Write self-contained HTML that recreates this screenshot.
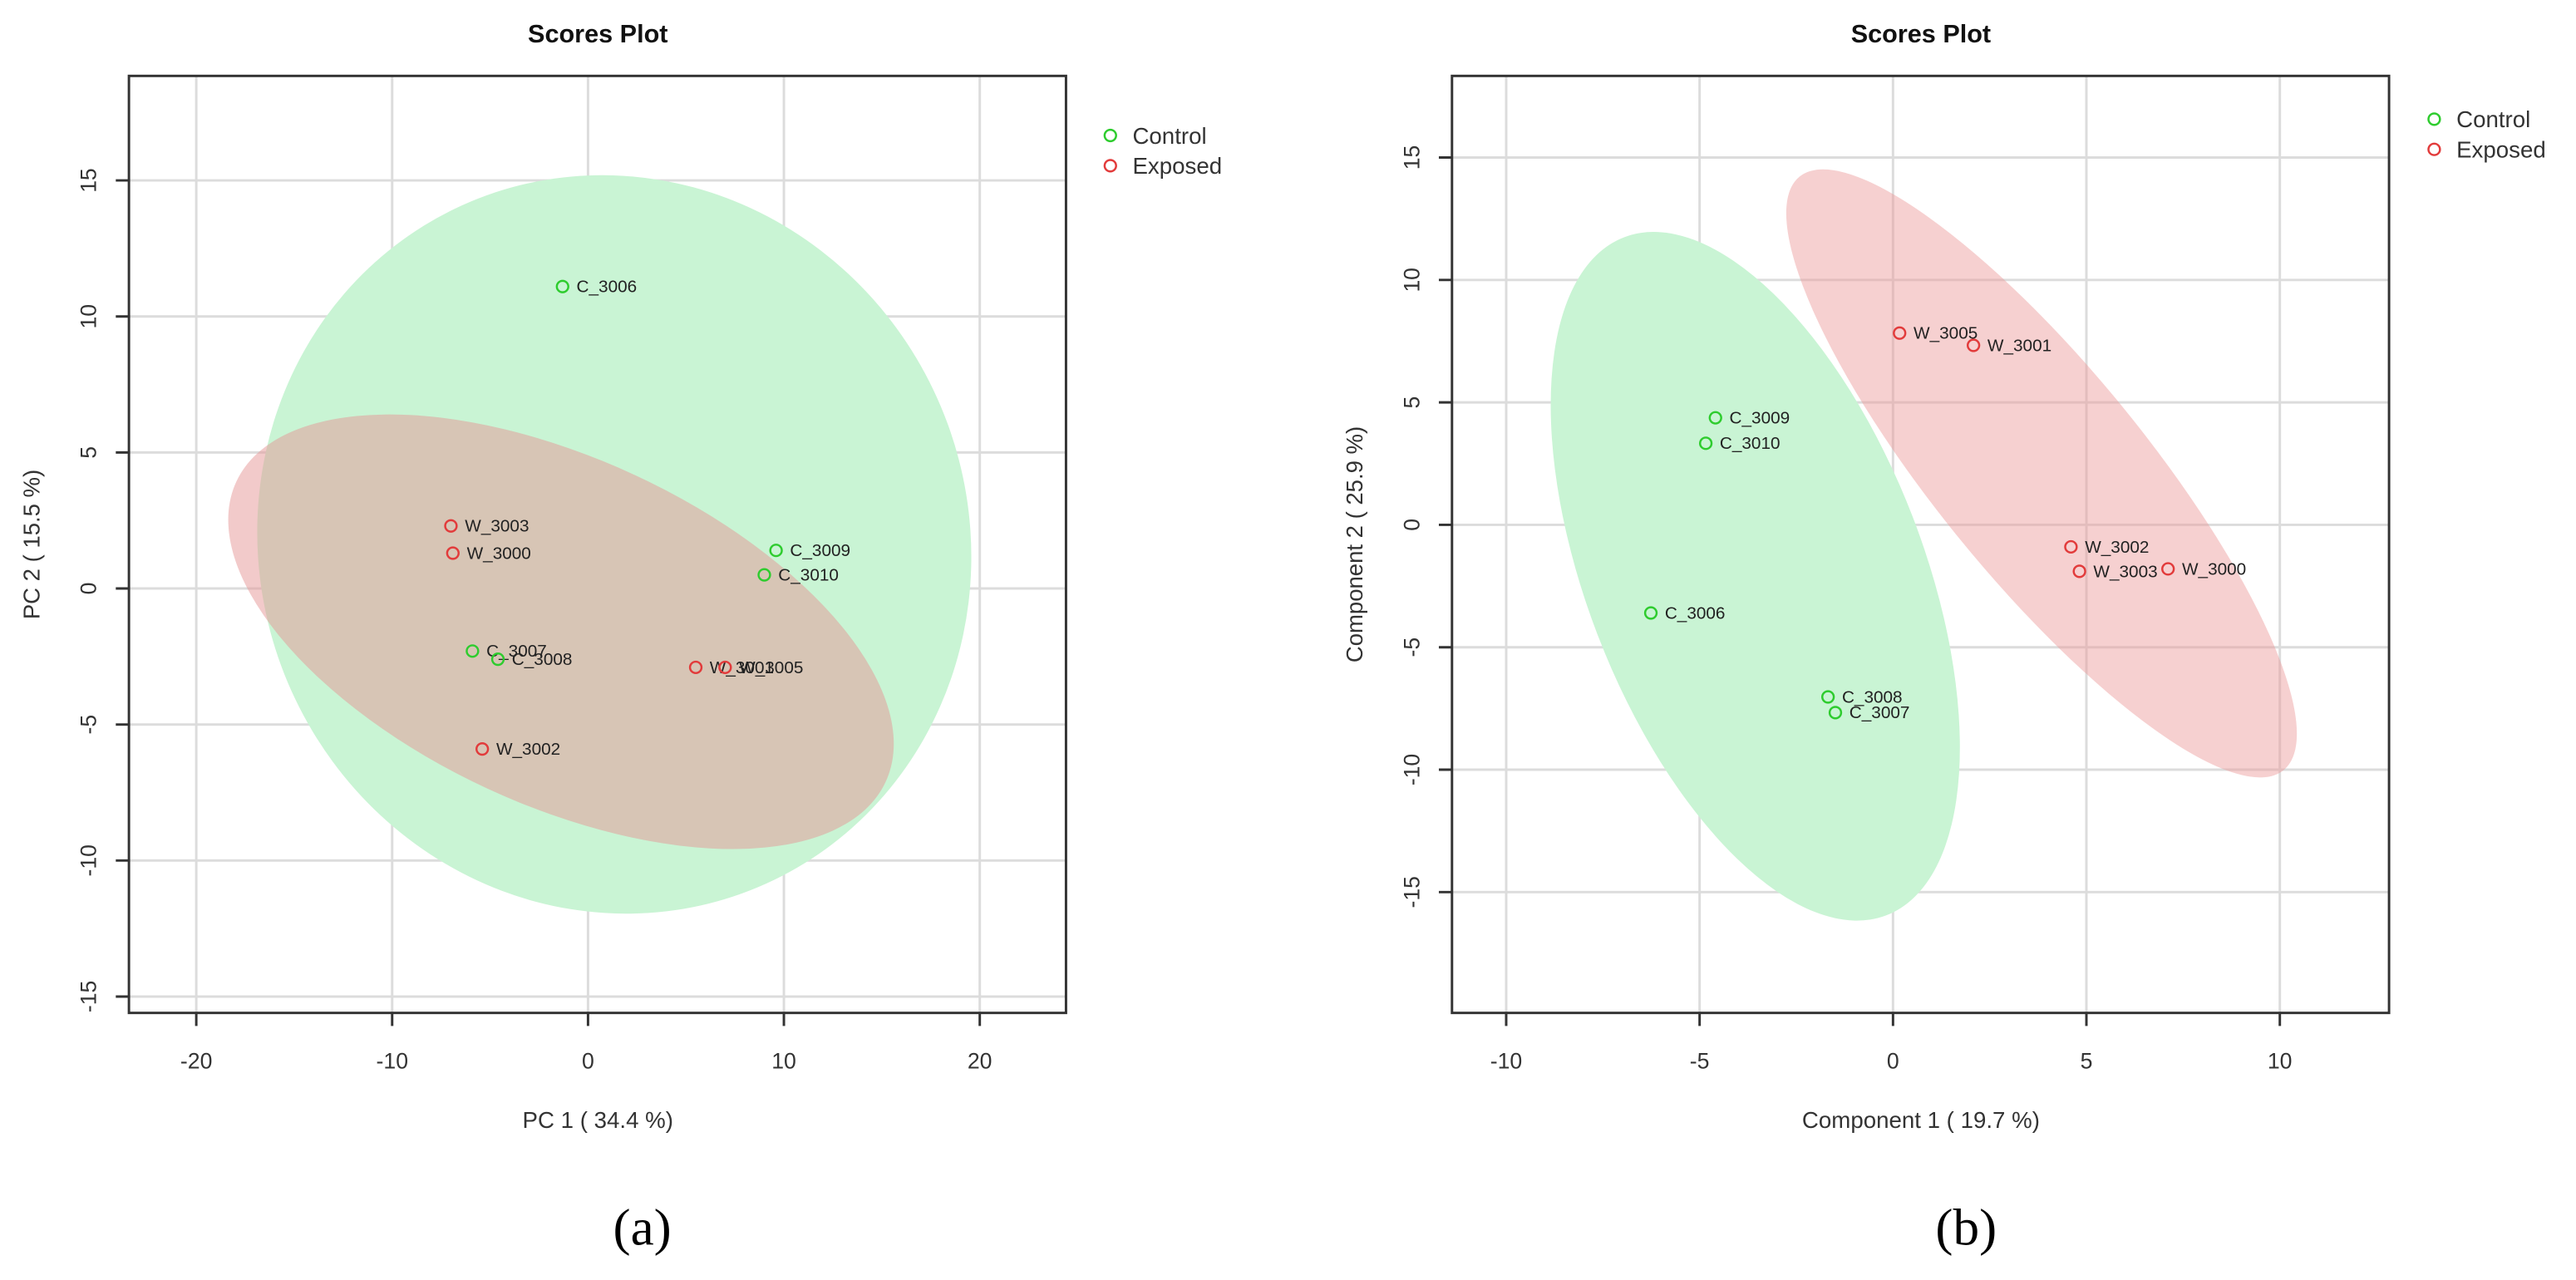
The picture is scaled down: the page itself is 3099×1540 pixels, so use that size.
<!DOCTYPE html>
<html><head><meta charset="utf-8"><style>
html,body{margin:0;padding:0;background:#fff;}
svg{display:block;font-family:"Liberation Sans",sans-serif;}
</style></head><body>
<svg id="chart" width="3099" height="1540" viewBox="0 0 3099 1540" xmlns="http://www.w3.org/2000/svg"><g id="root" transform="scale(0.988,0.982)"></g></svg>
<script>
// ---- Panel (a) data ----
const aLabels = ["C_3006","W_3003","W_3000","C_3009","C_3010","C_3007","C_3008","W_3001","W_3005","W_3002"];
const aGroups = ["Control","Exposed","Exposed","Control","Control","Control","Control","Exposed","Exposed","Exposed"];
const aX = [-1.3,-7.0,-6.9,9.6,9.0,-5.9,-4.6,5.5,7.0,-5.4];
const aY = [11.1,2.3,1.3,1.4,0.5,-2.3,-2.6,-2.9,-2.9,-5.9];
const aXTicks = [-20,-10,0,10,20];
const aYTicks = [-15,-10,-5,0,5,10,15];
const aEllCx = [1.34,-1.38];
const aEllCy = [1.62,-1.59];
// ---- Panel (b) data ----
const bLabels = ["W_3005","W_3001","C_3009","C_3010","W_3002","W_3003","W_3000","C_3006","C_3008","C_3007"];
const bGroups = ["Exposed","Exposed","Control","Control","Exposed","Exposed","Exposed","Control","Control","Control"];
const bX = [0.17,2.08,-4.59,-4.84,4.6,4.82,7.11,-6.26,-1.68,-1.49];
const bY = [7.83,7.33,4.37,3.33,-0.9,-1.9,-1.8,-3.6,-7.03,-7.67];
const bXTicks = [-10,-5,0,5,10];
const bYTicks = [-15,-10,-5,0,5,10,15];
const bEllCx = [-3.56,3.84];
const bEllCy = [-2.1,2.1];

const NS="http://www.w3.org/2000/svg";
const svg=document.getElementById('root');
function el(tag,attrs,parent){const e=document.createElementNS(NS,tag);for(const k in attrs)e.setAttribute(k,attrs[k]);(parent||svg).appendChild(e);return e;}
const COL={Control:"#2ecc2e",Exposed:"#e23b3b"};

function panel(cfg){
  const g=el('g',{transform:`translate(${cfg.dx},0)`});
  
  
  const sx=v=>cfg.x0px+(v-cfg.x0v)*cfg.xs;
  const sy=v=>cfg.y0px-(v-cfg.y0v)*cfg.ys;
  const [L,T,R,B]=cfg.box;
  cfg.xt.forEach(t=>{const l=el('line',{x1:sx(t),x2:sx(t),y1:T,y2:B,stroke:"#dcdcdc","stroke-width":3},g);});
  cfg.yt.forEach(t=>{const l=el('line',{x1:L,x2:R,y1:sy(t),y2:sy(t),stroke:"#dcdcdc","stroke-width":3},g);});
  cfg.ells.forEach((e,i)=>{
    const cx=sx(cfg.ecx[i]),cy=sy(cfg.ecy[i]);
    const p=el('ellipse',{cx:0,cy:0,rx:e.rx,ry:e.ry,fill:e.fill,"fill-opacity":e.op,transform:`translate(${cx},${cy}) rotate(${e.rot})`},g);
    
    
  });
  const bx=el('rect',{x:L,y:T,width:R-L,height:B-T,fill:"none",stroke:"#333","stroke-width":3},g);
  
  cfg.xt.forEach(t=>{
    el('line',{x1:sx(t),x2:sx(t),y1:B,y2:B+16,stroke:"#333","stroke-width":3},g);
    const tx=el('text',{x:sx(t),y:B+68,"font-size":27,fill:"#333","text-anchor":"middle"},g);tx.textContent=t;
    
  });
  cfg.yt.forEach(t=>{
    el('line',{x1:L-16,x2:L,y1:sy(t),y2:sy(t),stroke:"#333","stroke-width":3},g);
    const tx=el('text',{x:0,y:0,"font-size":27,fill:"#333","text-anchor":"middle",transform:`translate(${L-40},${sy(t)}) rotate(-90)`},g);tx.textContent=t;
    
  });
  cfg.X.forEach((v,i)=>{
    const c=el('circle',{cx:sx(v),cy:sy(cfg.Y[i]),r:7,fill:"none",stroke:COL[cfg.G[i]],"stroke-width":2.5},g);
    
    
    const t=el('text',{x:sx(v)+17,y:sy(cfg.Y[i])+7,"font-size":21,fill:"#222"},g);t.textContent=cfg.lab[i];
    
    
  });
  const ti=el('text',{x:cfg.titleX,y:52,"font-size":31,"font-weight":"bold","text-anchor":"middle",fill:"#111"},g);ti.textContent="Scores Plot";
  
  const xa=el('text',{x:cfg.titleX,y:1382,"font-size":28,"text-anchor":"middle",fill:"#333"},g);xa.textContent=cfg.xTitle;
  
  const ya=el('text',{x:0,y:0,"font-size":28,"text-anchor":"middle",fill:"#333",transform:`translate(${cfg.yTitleX},${(T+B)/2}) rotate(-90)`},g);ya.textContent=cfg.yTitle;
  
  ["Control","Exposed"].forEach((n,i)=>{
    const c=el('circle',{cx:cfg.legX,cy:cfg.legY+i*37,r:7,fill:"none",stroke:COL[n],"stroke-width":2.5},g);
    
    const t=el('text',{x:cfg.legX+27,y:cfg.legY+i*37+10,"font-size":28,fill:"#333"},g);t.textContent=n;
    
  });
  const cap=el('text',{x:cfg.capX,y:1525,"font-size":64,"text-anchor":"middle",fill:"#000","font-family":"Liberation Serif, serif"},g);
  cap.textContent=cfg.cap;
  
}

panel({name:'panel-a-pca',dx:0,box:[157,93,1298,1241],x0px:716,x0v:0,xs:23.85,y0px:721,y0v:0,ys:33.33,
  xt:aXTicks,yt:aYTicks,X:aX,Y:aY,G:aGroups,lab:aLabels,ecx:aEllCx,ecy:aEllCy,
  ells:[{rx:432,ry:455,rot:-20,fill:"#c9f4d4",op:1,name:'control-ellipse'},{rx:436,ry:212,rot:25,fill:"rgb(230,150,150)",op:0.5,name:'exposed-ellipse'}],
  titleX:728,xTitle:"PC 1 ( 34.4 %)",yTitle:"PC 2 ( 15.5 %)",yTitleX:48,legX:1352,legY:166,capX:782,cap:"(a)"});
panel({name:'panel-b-plsda',dx:19,box:[1749,93,2890,1241],x0px:2286,x0v:0,xs:47.1,y0px:643,y0v:0,ys:30,
  xt:bXTicks,yt:bYTicks,X:bX,Y:bY,G:bGroups,lab:bLabels,ecx:bEllCx,ecy:bEllCy,
  ells:[{rx:205,ry:445,rot:-21,fill:"#c9f4d4",op:1,name:'control-ellipse'},{rx:128,ry:468,rot:-39,fill:"rgb(235,150,150)",op:0.45,name:'exposed-ellipse'}],
  titleX:2320,xTitle:"Component 1 ( 19.7 %)",yTitle:"Component 2 ( 25.9 %)",yTitleX:1640,legX:2945,legY:146,capX:2375,cap:"(b)"});
</script>
</body></html>
